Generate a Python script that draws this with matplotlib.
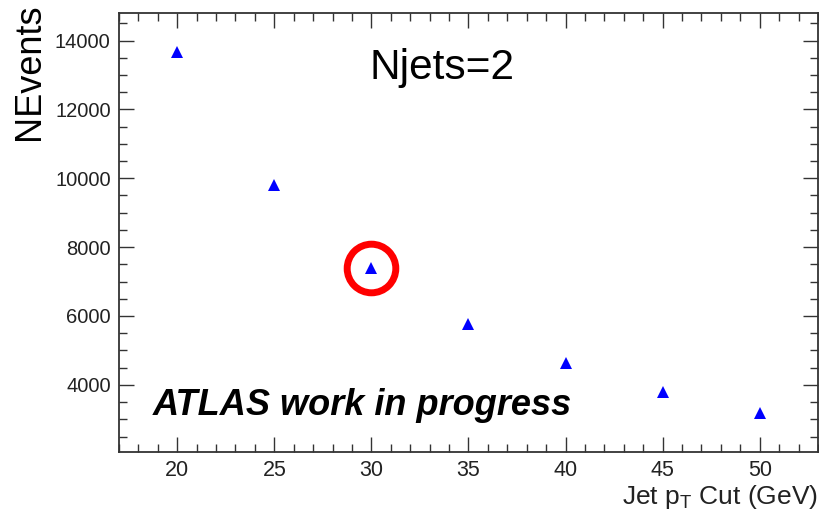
import matplotlib
matplotlib.use("Agg")
import matplotlib.pyplot as plt
from matplotlib.ticker import MultipleLocator

plt.rcParams["font.family"] = ["Liberation Sans", "DejaVu Sans"]
plt.rcParams["mathtext.fontset"] = "custom"
plt.rcParams["mathtext.rm"] = "Liberation Sans"
plt.rcParams["mathtext.it"] = "Liberation Sans:italic"

# Jet pT cut scan, events with exactly two jets
pt_cut = [20, 25, 30, 35, 40, 45, 50]
n_events = [13680, 9810, 7400, 5770, 4640, 3800, 3190]
highlight_cut = 30

fig = plt.figure(figsize=(8.2, 5.12), dpi=100)
ax = fig.add_axes([119 / 820, 1 - 452 / 512, 699 / 820, 439 / 512])

ax.plot(pt_cut, n_events, linestyle="none", marker="^", color="#0000ff",
        markersize=9, markeredgewidth=0)

hi = pt_cut.index(highlight_cut)
ax.plot([pt_cut[hi]], [n_events[hi]], linestyle="none", marker="o",
        markersize=35, markerfacecolor="none", markeredgecolor="#ff0000",
        markeredgewidth=5)

ax.set_xlim(17, 53)
ax.set_ylim(2050, 14800)

ax.xaxis.set_major_locator(MultipleLocator(5))
ax.xaxis.set_minor_locator(MultipleLocator(1))
ax.yaxis.set_major_locator(MultipleLocator(2000))
ax.yaxis.set_minor_locator(MultipleLocator(500))
ax.tick_params(which="both", direction="in", top=True, right=True,
               color="#333333", width=1.0)
ax.tick_params(which="major", length=11, labelsize=14.5, labelcolor="#222222",
               pad=6)
ax.tick_params(which="minor", length=6)
ax.tick_params(axis="x", which="major", labelsize=15.5, pad=6)

for sp in ax.spines.values():
    sp.set_color("#333333")
    sp.set_linewidth(1.3)

ax.text(0.462, 0.85, "Njets=2", transform=ax.transAxes, fontsize=30.5,
        ha="center", va="baseline", color="black")
ax.text(0.048, 0.084, "ATLAS work in progress", transform=ax.transAxes,
        fontsize=26, fontweight="bold", fontstyle="italic", ha="left",
        va="baseline", color="black")

fig.text(30 / 820, 1 - 4 / 512, "NEvents", rotation=90, fontsize=26,
         ha="center", va="top", color="black")
fig.text(818 / 820, 1 - 497 / 512, r"Jet p$_{\mathrm{T}}$ Cut (GeV)",
         fontsize=19, ha="right", va="center", color="#222222")

fig.savefig("out.png", dpi=100)
